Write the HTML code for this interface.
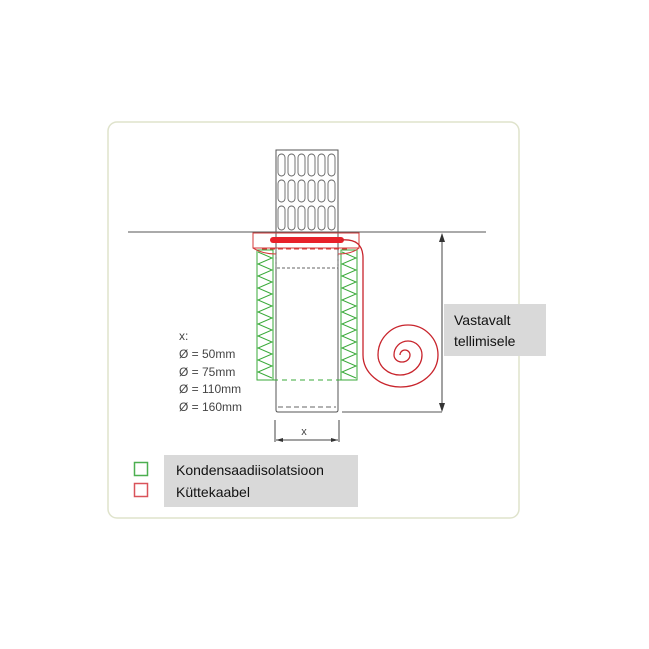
<!DOCTYPE html>
<html><head><meta charset="utf-8"><style>
body{margin:0;background:#fff;}
svg{display:block;}
text{font-family:"Liberation Sans",sans-serif;}
</style></head><body>
<svg width="649" height="649" viewBox="0 0 649 649" xmlns="http://www.w3.org/2000/svg">
<rect x="108" y="122" width="411" height="396" rx="9" fill="#fff" stroke="#dfe3cc" stroke-width="1.5"/>
<line x1="128" y1="232" x2="486" y2="232" stroke="#555" stroke-width="1"/>
<!-- grate -->
<rect x="276" y="150" width="62" height="82" fill="#fff" stroke="#555" stroke-width="1"/>
<g fill="none" stroke="#666" stroke-width="0.9">
<rect x="278" y="154" width="7" height="22" rx="3.5"/><rect x="288" y="154" width="7" height="22" rx="3.5"/><rect x="298" y="154" width="7" height="22" rx="3.5"/><rect x="308" y="154" width="7" height="22" rx="3.5"/><rect x="318" y="154" width="7" height="22" rx="3.5"/><rect x="328" y="154" width="7" height="22" rx="3.5"/>
<rect x="278" y="180" width="7" height="22" rx="3.5"/><rect x="288" y="180" width="7" height="22" rx="3.5"/><rect x="298" y="180" width="7" height="22" rx="3.5"/><rect x="308" y="180" width="7" height="22" rx="3.5"/><rect x="318" y="180" width="7" height="22" rx="3.5"/><rect x="328" y="180" width="7" height="22" rx="3.5"/>
<rect x="278" y="206" width="7" height="24" rx="3.5"/><rect x="288" y="206" width="7" height="24" rx="3.5"/><rect x="298" y="206" width="7" height="24" rx="3.5"/><rect x="308" y="206" width="7" height="24" rx="3.5"/><rect x="318" y="206" width="7" height="24" rx="3.5"/><rect x="328" y="206" width="7" height="24" rx="3.5"/>
</g>
<!-- pipe -->
<path d="M276,232 L276,410 Q276,412 278,412 L336,412 Q338,412 338,410 L338,232" fill="none" stroke="#555" stroke-width="1"/>
<line x1="278" y1="407" x2="336" y2="407" stroke="#666" stroke-dasharray="5,3"/>
<rect x="276" y="248" width="62" height="20" fill="none" stroke="#666" stroke-dasharray="3,2"/>
<!-- insulation -->
<g fill="none" stroke="#3aaa3a" stroke-width="1">
<rect x="257" y="250" width="16" height="130"/>
<rect x="341" y="250" width="16" height="130"/>
<polyline points="258,252 272,258 258,264 272,270 258,276 272,282 258,288 272,294 258,300 272,306 258,312 272,318 258,324 272,330 258,336 272,342 258,348 272,354 258,360 272,366 258,372 272,378"/>
<polyline points="342,252 356,258 342,264 356,270 342,276 356,282 342,288 356,294 342,300 356,306 342,312 356,318 342,324 356,330 342,336 356,342 342,348 356,354 342,360 356,366 342,372 356,378"/>
<line x1="273" y1="380" x2="341" y2="380" stroke-dasharray="5,4"/>
</g>
<!-- flange -->
<rect x="253" y="233" width="106" height="15" fill="none" stroke="#d43a3a" stroke-width="1"/>
<path d="M253,248 Q262,254 276,254 M338,254 Q352,254 359,248" fill="none" stroke="#d43a3a" stroke-width="1"/>
<line x1="262" y1="249" x2="350" y2="249" stroke="#d43a3a" stroke-dasharray="5,3"/>
<line x1="273" y1="240" x2="341" y2="240" stroke="#e8212a" stroke-width="6" stroke-linecap="round"/>
<!-- cable -->
<path d="M341,240 Q363,238 363,258 L363,355 A37.5,32 0 0 0 438,355 A30,30 0 0 0 378,355 A22,20 0 0 0 422,355 A14,14 0 0 0 394,355 A8,7 0 0 0 410,355 A5,5 0 0 0 400,355" fill="none" stroke="#c8242c" stroke-width="1.3"/>
<!-- dimensions -->
<line x1="442" y1="234" x2="442" y2="410" stroke="#444"/>
<path d="M439,242 L442,233 L445,242 Z M439,403 L442,412 L445,403 Z" fill="#333"/>
<line x1="342" y1="412" x2="442" y2="412" stroke="#555"/>
<line x1="275" y1="420" x2="275" y2="442" stroke="#444"/>
<line x1="339" y1="420" x2="339" y2="442" stroke="#444"/>
<line x1="276" y1="440" x2="338" y2="440" stroke="#444"/>
<path d="M276,440 L283,438 L283,442 Z M338,440 L331,438 L331,442 Z" fill="#333"/>
<text x="304" y="435" font-size="11" fill="#444" text-anchor="middle">x</text>
<g font-size="12" fill="#444">
<text x="179" y="340">x:</text>
<text x="179" y="358">Ø = 50mm</text>
<text x="179" y="376">Ø = 75mm</text>
<text x="179" y="393">Ø = 110mm</text>
<text x="179" y="411">Ø = 160mm</text>
</g>
<rect x="444" y="304" width="102" height="52" fill="#d9d9d9"/>
<text x="454" y="325" font-size="14" fill="#111">Vastavalt</text>
<text x="454" y="346" font-size="14" fill="#111">tellimisele</text>
<rect x="164" y="455" width="194" height="52" fill="#d9d9d9"/>
<text x="176" y="475" font-size="14" fill="#111">Kondensaadiisolatsioon</text>
<text x="176" y="497" font-size="14" fill="#111">Küttekaabel</text>
<rect x="134.5" y="462.5" width="13" height="13" fill="none" stroke="#4caf50" stroke-width="1.5"/>
<rect x="134.5" y="483.5" width="13" height="13" fill="none" stroke="#d9535a" stroke-width="1.5"/>
</svg>
</body></html>
